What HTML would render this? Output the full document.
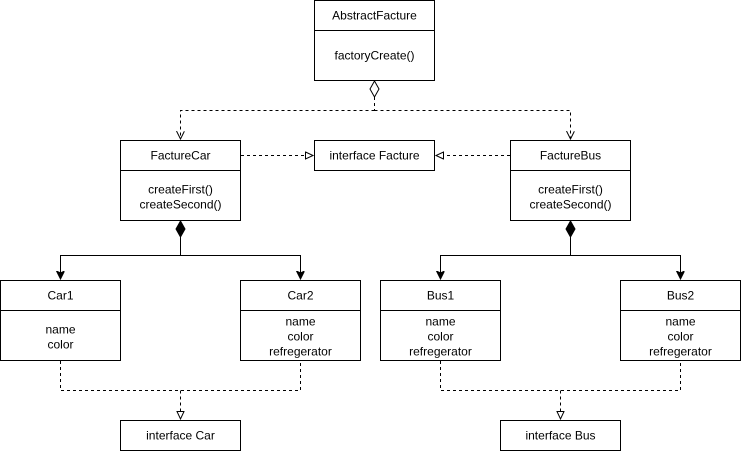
<!DOCTYPE html>
<html><head><meta charset="utf-8"><style>
html,body{margin:0;padding:0;background:#fff;}
svg{display:block;}
text{font-family:"Liberation Sans",Arial,sans-serif;font-size:12px;fill:#000;text-anchor:middle;}
</style></head><body>
<svg width="741" height="451" viewBox="0 0 741 451" xmlns="http://www.w3.org/2000/svg">
<defs>
<marker id="open" markerWidth="10" markerHeight="10" refX="8" refY="4" orient="auto" markerUnits="userSpaceOnUse">
<path d="M0,0 L8,4 L0,8" fill="none" stroke="#000" stroke-width="1"/></marker>
<marker id="tri" markerWidth="10" markerHeight="10" refX="8" refY="4" orient="auto" markerUnits="userSpaceOnUse">
<path d="M0.5,0.5 L8,4 L0.5,7.5 Z" fill="#fff" stroke="#000" stroke-width="1"/></marker>
<marker id="fill" markerWidth="10" markerHeight="10" refX="8" refY="4" orient="auto" markerUnits="userSpaceOnUse">
<path d="M0,0 L8,4 L0,8 L2,4 Z" fill="#000" stroke="#000" stroke-width="1"/></marker>
</defs>
<g fill="#fff" stroke="#000" stroke-width="1">
<rect x="314.5" y="0.5" width="120" height="80"/><line x1="314.5" y1="30.5" x2="434.5" y2="30.5"/>
<rect x="120.5" y="140.5" width="120" height="80"/><line x1="120.5" y1="170.5" x2="240.5" y2="170.5"/>
<rect x="510.5" y="140.5" width="120" height="80"/><line x1="510.5" y1="170.5" x2="630.5" y2="170.5"/>
<rect x="314.5" y="140.5" width="120" height="30"/>
<rect x="0.5" y="280.5" width="120" height="80"/><line x1="0.5" y1="310.5" x2="120.5" y2="310.5"/>
<rect x="240.5" y="280.5" width="120" height="80"/><line x1="240.5" y1="310.5" x2="360.5" y2="310.5"/>
<rect x="380.5" y="280.5" width="120" height="80"/><line x1="380.5" y1="310.5" x2="500.5" y2="310.5"/>
<rect x="620.5" y="280.5" width="120" height="80"/><line x1="620.5" y1="310.5" x2="740.5" y2="310.5"/>
<rect x="120.5" y="420.5" width="120" height="30"/>
<rect x="500.5" y="420.5" width="120" height="30"/>
</g>
<g fill="none" stroke="#000" stroke-width="1">
<!-- aggregation -->
<path d="M374.5,81 L379,89 L374.5,97 L370,89 Z" fill="#fff"/>
<path d="M374.5,97 V110.5" stroke-dasharray="3,3"/>
<path d="M374.5,110.5 H180.5 V139" stroke-dasharray="3,3" marker-end="url(#open)"/>
<path d="M374.5,110.5 H570.5 V139" stroke-dasharray="3,3" marker-end="url(#open)"/>
<!-- realization to Facture -->
<path d="M241,155.5 H313" stroke-dasharray="3,3" marker-end="url(#tri)"/>
<path d="M510,155.5 H436" stroke-dasharray="3,3" marker-end="url(#tri)"/>
<!-- composition left -->
<path d="M180.5,221 L185,229 L180.5,237 L176,229 Z" fill="#000"/>
<path d="M180.5,237 V255.5 M180.5,255.5 H60.5 V279" marker-end="url(#fill)"/>
<path d="M180.5,255.5 H300.5 V279" marker-end="url(#fill)"/>
<!-- composition right -->
<path d="M570.5,221 L575,229 L570.5,237 L566,229 Z" fill="#000"/>
<path d="M570.5,237 V255.5 M570.5,255.5 H440.5 V279" marker-end="url(#fill)"/>
<path d="M570.5,255.5 H680.5 V279" marker-end="url(#fill)"/>
<!-- realization bottom -->
<path d="M60.5,361 V390.5 H300.5 V361" stroke-dasharray="3,3"/>
<path d="M180.5,390.5 V419" stroke-dasharray="3,3" marker-end="url(#tri)"/>
<path d="M440.5,361 V390.5 H680.5 V361" stroke-dasharray="3,3"/>
<path d="M560.5,390.5 V419" stroke-dasharray="3,3" marker-end="url(#tri)"/>
</g>
<text x="374.5" y="19.5">AbstractFacture</text>
<text x="374.5" y="59.5">factoryCreate()</text>
<text x="180.5" y="159.5">FactureCar</text>
<text x="180.5" y="193.5">createFirst()</text>
<text x="180.5" y="208.5">createSecond()</text>
<text x="570.5" y="159.5">FactureBus</text>
<text x="570.5" y="193.5">createFirst()</text>
<text x="570.5" y="208.5">createSecond()</text>
<text x="374.5" y="159.5">interface Facture</text>
<text x="60.5" y="299.5">Car1</text>
<text x="60.5" y="333.5">name</text>
<text x="60.5" y="348.5">color</text>
<text x="300.5" y="299.5">Car2</text>
<text x="300.5" y="325.5">name</text>
<text x="300.5" y="340.5">color</text>
<text x="300.5" y="355.5">refregerator</text>
<text x="440.5" y="299.5">Bus1</text>
<text x="440.5" y="325.5">name</text>
<text x="440.5" y="340.5">color</text>
<text x="440.5" y="355.5">refregerator</text>
<text x="680.5" y="299.5">Bus2</text>
<text x="680.5" y="325.5">name</text>
<text x="680.5" y="340.5">color</text>
<text x="680.5" y="355.5">refregerator</text>
<text x="180.5" y="439.5">interface Car</text>
<text x="560.5" y="439.5">interface Bus</text>
</svg>
</body></html>
